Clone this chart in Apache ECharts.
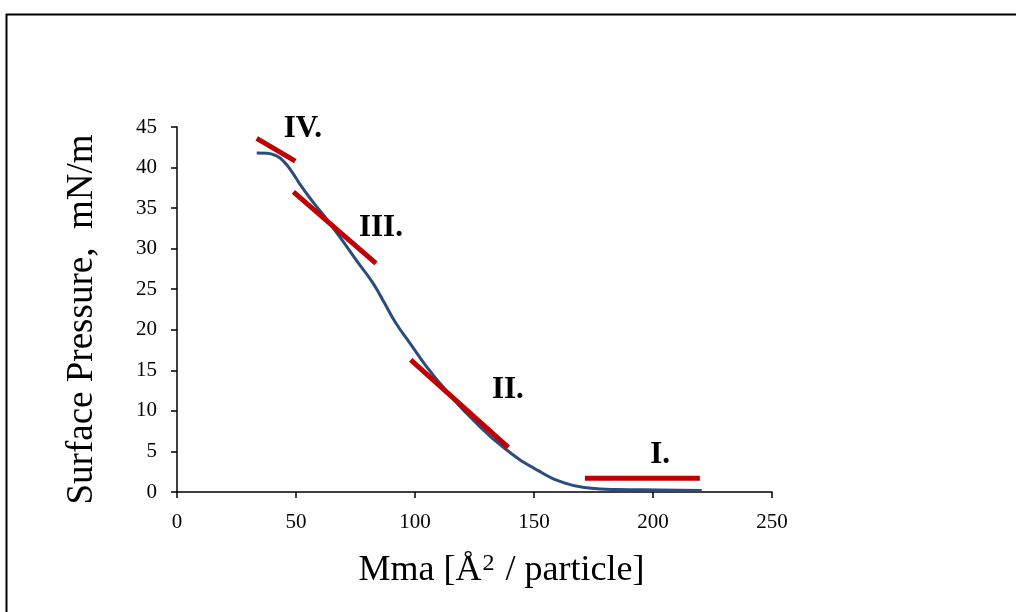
<!DOCTYPE html>
<html>
<head>
<meta charset="utf-8">
<script src="https://cdn.jsdelivr.net/npm/echarts@6/dist/echarts.min.js"></script>
<style>
  html, body { margin: 0; padding: 0; background: #fff; }
  #chart-container { width: 1016px; height: 612px; }
</style>
</head>
<body>
<div id="chart-container"></div>
<script>
// isotherm curve, [Mma, pressure]
var isotherm = [
  [33.5, 41.8], [38, 41.75], [42, 41.4], [45, 40.7], [48, 39.6], [52, 37.8],
  [57, 35.8], [63, 33.6], [69, 31.2], [76, 28.3], [82, 25.9], [87, 23.4],
  [92, 20.8], [98, 18.3], [105, 15.4], [114, 12.2], [124, 9.0], [138, 5.3],
  [152, 2.6], [163, 1.1], [173, 0.5], [185, 0.3], [203, 0.25], [220.5, 0.2]
];

// fitted regions (red segments)
var regionIV = [[33.5, 43.6], [49.7, 40.8]];
var regionIII = [[48.9, 37.0], [83.6, 28.2]];
var regionII = [[98.2, 16.3], [139.2, 5.5]];
var regionI = [[171.4, 1.7], [219.7, 1.7]];

var regionLabels = [
  [52.9, 44.8, 'IV.'],
  [85.7, 32.6, 'III.'],
  [139, 12.6, 'II.'],
  [203, 4.6, 'I.']
];

var xTicks = [0, 50, 100, 150, 200, 250];
var yTicks = [0, 5, 10, 15, 20, 25, 30, 35, 40, 45];

var dom = document.getElementById('chart-container');
var myChart = echarts.init(dom, null, { renderer: 'canvas' });

var serif = '"Liberation Serif", "Times New Roman", serif';

function segment(data) {
  return {
    type: 'line',
    data: data,
    symbol: 'none',
    lineStyle: { color: '#C00000', width: 5 },
    z: 3,
    silent: true
  };
}

var option = {
  animation: false,
  backgroundColor: '#fff',
  graphic: [{
    type: 'rect',
    left: 4,
    top: 12,
    shape: { width: 1100, height: 700 },
    style: { fill: 'none', stroke: '#000', lineWidth: 2 }
  }],
  grid: { left: 177, right: 244, top: 127, bottom: 120 },
  xAxis: {
    type: 'value',
    min: 0,
    max: 250,
    interval: 50,
    name: 'Mma [Å{sup|2} / particle]',
    nameLocation: 'middle',
    nameGap: 60,
    nameTextStyle: {
      fontFamily: serif, fontSize: 36, color: '#000',
      padding: [0, 0, 0, 54],
      rich: { sup: { fontFamily: serif, fontSize: 24, color: '#000', verticalAlign: 'top', padding: [0, 2, 14, 1] } }
    },
    axisLine: { lineStyle: { color: '#000', width: 1.5 } },
    axisTick: { show: true, length: 6, lineStyle: { color: '#000', width: 1.5 } },
    axisLabel: { fontFamily: serif, fontSize: 21, color: '#000', margin: 20 },
    splitLine: { show: false }
  },
  yAxis: {
    type: 'value',
    min: 0,
    max: 45,
    interval: 5,
    name: 'Surface Pressure,  mN/m',
    nameLocation: 'middle',
    nameGap: 76,
    nameTextStyle: { fontFamily: serif, fontSize: 37, color: '#000', padding: [0, 20, 0, 0] },
    axisLine: { show: true, lineStyle: { color: '#000', width: 1.5 } },
    axisTick: { show: true, length: 6, lineStyle: { color: '#000', width: 1.5 } },
    axisLabel: { fontFamily: serif, fontSize: 21, color: '#000', margin: 20 },
    splitLine: { show: false }
  },
  series: [
    {
      type: 'line',
      data: isotherm,
      smooth: 0.5,
      symbol: 'none',
      lineStyle: { color: '#2B4C7E', width: 3 },
      z: 2,
      silent: true
    },
    segment(regionIV),
    segment(regionIII),
    segment(regionII),
    segment(regionI),
    {
      type: 'scatter',
      symbolSize: 0,
      silent: true,
      itemStyle: { opacity: 1 },
      data: regionLabels.map(function (d) { return { value: [d[0], d[1]], name: d[2] }; }),
      label: {
        show: true,
        position: 'inside',
        formatter: function (p) { return p.name; },
        fontFamily: serif,
        fontWeight: 'bold',
        fontSize: 31,
        color: '#000',
        opacity: 1,
        textBorderWidth: 0
      },
      z: 4
    }
  ]
};

myChart.setOption(option);
window.addEventListener('resize', myChart.resize);
</script>
</body>
</html>
